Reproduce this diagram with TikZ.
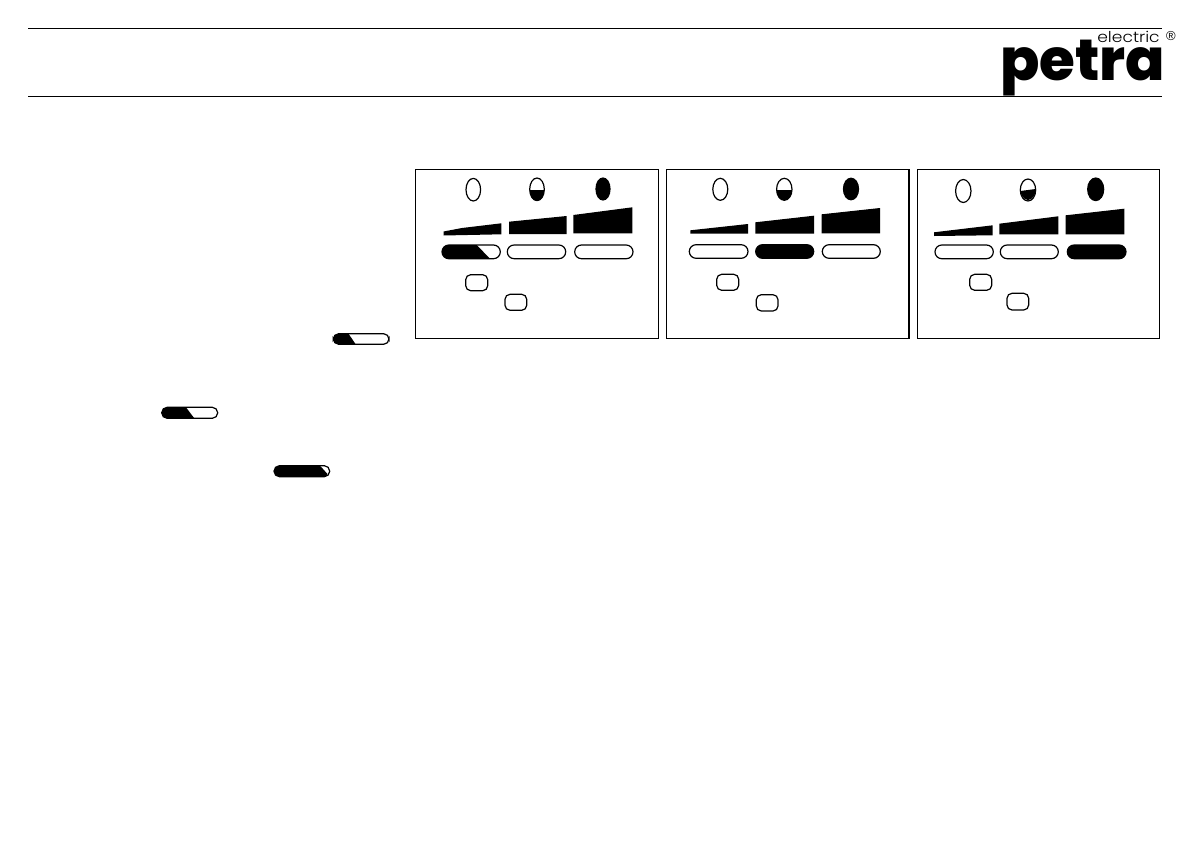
\documentclass[tikz,border=0pt]{standalone}
\usepackage{fontspec}
\setmainfont{Liberation Sans}
\newfontfamily\logofont{Poppins}[UprightFont=* ExtraBold]
\newfontfamily\logothin{Poppins}[UprightFont=* Light]
\tikzset{
  rule/.style={black, line width=0.55pt},
  panel/.style={black, line width=0.55pt},
  lamp/.style={black, line width=0.6pt},
  bar/.style={black, fill=black, line width=0.2pt},
  pill/.style={black, line width=0.6pt, rounded corners=3.4pt},
  smallpill/.style={black, line width=0.6pt, rounded corners=2.7pt},
  keycap/.style={black, line width=0.6pt, rounded corners=2.5pt}
}
% px: x right, y down
\begin{document}
\begin{tikzpicture}[x=0.5pt,y=-0.5pt]
            \useasboundingbox (0,0) rectangle (1191,857);
            \draw [rule] (28,28.3) -- (1162,28.3);
            \draw [rule] (28,96.3) -- (1162,96.3);
            % logo
            \node (logo) at (1082.5,68) [inner sep=0pt, xscale=1.0] {\logofont\fontsize{29}{29}\selectfont petra};
            \node (electric) at (1128.5,37) [inner sep=0pt, xscale=1.14] {\logothin\fontsize{7.5}{8}\selectfont electric};
            \node (reg) at (1171,36) [inner sep=0pt] {\fontsize{6.5}{7}\selectfont ®};
            % panel one
            \draw [panel] (415.7,169.3) rectangle (658.7,338.5);
            \draw [lamp] (473.3,189.7) ellipse (7.3 and 11.3);
            \fill (529.7,190) arc (180:0:7.3 and 10.8) -- cycle;
            \draw [lamp] (537,189.3) ellipse (7.3 and 11.3);
            \draw [lamp, fill=black] (603,189) ellipse (7 and 11);
            \fill [bar] (443.5,231.5) -- (462,228) -- (501.3,223.3) -- (501.3,234.3) -- (443.5,235.5) -- cycle;
            \fill [bar] (509,221.7) -- (566.7,216) -- (566.7,234) -- (509,234) -- cycle;
            \fill [bar] (573.3,215) -- (632.3,207.3) -- (632.3,233.3) -- (573.3,233.3) -- cycle;
            \draw [pill] (442,245) rectangle (500.3,258.7);
            \fill (476.7,245) -- (490,258.7) -- (448.8,258.7) arc (90:270:6.85) -- cycle;
            \draw [pill] (507.3,245) rectangle (565.7,258.7);
            \draw [pill] (574.7,245) rectangle (633,258.7);
            \draw [keycap] (465.7,274.7) rectangle (487.7,290.7);
            \draw [keycap] (505,294.3) rectangle (526.7,310.3);
            % panel two
            \draw [panel] (666.3,169.3) rectangle (909.3,338.5);
            \draw [black, line width=0.9pt] (909.3,169.3) -- (909.3,338.5);
            \draw [lamp] (720.3,189.3) ellipse (7.5 and 11);
            \fill (776.6,190) arc (180:0:7.7 and 10.3) -- cycle;
            \draw [lamp] (784.3,189.3) ellipse (7.7 and 11);
            \draw [lamp, fill=black] (851,189) ellipse (7.5 and 10.8);
            \fill [bar] (690.3,230.3) -- (748,224) -- (748,233.7) -- (690.3,233.7) -- cycle;
            \fill [bar] (755.3,222.3) -- (814,215.7) -- (814,233.7) -- (755.3,233.7) -- cycle;
            \fill [bar] (821.7,214.3) -- (880,208) -- (880,233.3) -- (821.7,233.3) -- cycle;
            \draw [pill] (689.3,244.7) rectangle (748,258.3);
            \draw [pill, fill=black] (755.7,244.7) rectangle (813.7,258.3);
            \draw [pill] (822.3,244.7) rectangle (880.3,258.3);
            \draw [keycap] (716.7,274.3) rectangle (738.7,290.3);
            \draw [keycap] (756.3,294.7) rectangle (778,311);
            % panel three
            \draw [panel] (917.3,169.3) rectangle (1159.3,338.5);
            \draw [lamp] (963.3,191) ellipse (7.7 and 11.5);
            \fill (1020.3,191) -- (1035.7,189) arc (0:180:7.7 and 11) -- cycle;
            \draw [lamp] (1028,190) ellipse (7.7 and 11);
            \draw [lamp, fill=black] (1095.7,189.3) ellipse (8 and 11.3);
            \fill [bar] (934,232.3) -- (992.7,225.3) -- (992.7,235.3) -- (934,236) -- cycle;
            \fill [bar] (999.3,223.7) -- (1058.3,216.3) -- (1058.3,234.3) -- (999.3,234.3) -- cycle;
            \fill [bar] (1065.7,215.3) -- (1124.3,208.7) -- (1124.3,234.3) -- (1065.7,234.3) -- cycle;
            \draw [pill] (935,245) rectangle (993.3,258.7);
            \draw [pill] (1000.3,245) rectangle (1058.3,258.7);
            \draw [pill, fill=black] (1067.3,245) rectangle (1126,258.7);
            \draw [keycap] (969.7,274.3) rectangle (991.7,290.3);
            \draw [keycap] (1007,293.3) rectangle (1028.7,310);
            % small pills in the text column
            \draw [smallpill] (333.3,333.7) rectangle (389,344.3);
            \fill (348.5,333.7) -- (355.7,344.3) -- (338.6,344.3) arc (90:270:5.3) -- cycle;
            \draw [smallpill] (161.7,407.3) rectangle (217.7,418.3);
            \fill (186,407.3) -- (194.3,418.3) -- (167.2,418.3) arc (90:270:5.5) -- cycle;
            \draw [smallpill] (274,465.7) rectangle (329.7,476.7);
            \fill (320,465.7) -- (327.5,474) -- (325,476.7) -- (279.5,476.7) arc (90:270:5.5) -- cycle;
        \end{tikzpicture}
\end{document}
